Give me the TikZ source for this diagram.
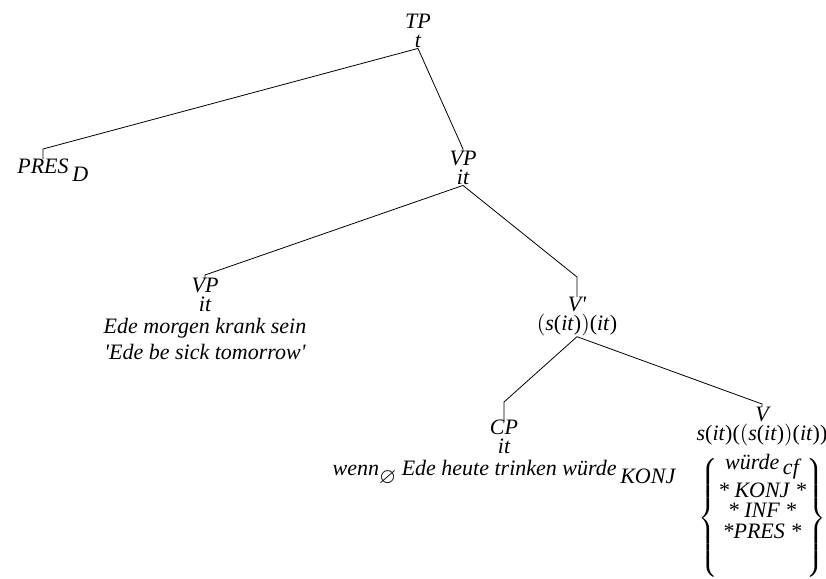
\documentclass[tikz,border=0pt]{standalone}
\usepackage{amssymb}
\usepackage{fontspec}
\setmainfont{Liberation Serif}
\usetikzlibrary{calc}

% lowered index, as the tree program sets it
\newcommand{\lowidx}[2][-0.7ex]{\,\raisebox{#1}{#2}}
\newcommand{\po}{\textup{(}}
\newcommand{\pc}{\textup{)}}
\newcommand{\bpo}{$\bigl($}
\newcommand{\bpc}{$\bigr)$}

\tikzset{
  lab/.style={anchor=north,inner sep=0pt,align=center,
    font=\fontsize{11}{9.5}\selectfont\itshape},
}

\begin{document}
\begin{tikzpicture}[x=0.5pt,y=-0.5pt]
\useasboundingbox (0,0) rectangle (826,579);

\node[lab] (tp) at (418,14) {TP\\t};
\node[lab] (pres) at (43,159) {PRES\rlap{\lowidx{D}}};
\node[lab] (vp) at (463,151) {VP\\it};
\node[lab] (vpl) at (205,278) {VP\\it\\[1.5pt]Ede morgen krank sein\\[2pt]\textquotesingle Ede be sick tomorrow\textquotesingle};
\node[lab] (vbar) at (577,297) {V\textquotesingle\\\bpo s\po it\pc\bpc\po it\pc};
\node[lab] (cp) at (504,420) {CP\\it\\[1.5pt]wenn\raisebox{-0.7ex}{$\varnothing$} Ede heute trinken würde\lowidx{KONJ}};
\node[lab] (v) at (762,407) {V\\s\po it\pc\po\bpo s\po it\pc\bpc\po it\pc\pc\\[3pt]
  $\left\{\renewcommand{\arraystretch}{1.0}\begin{array}{@{}c@{}}
  \mbox{\itshape würde\lowidx[-0.45ex]{cf}}\\[4pt]
  \mbox{\itshape * KONJ *}\\
  \mbox{\itshape * INF *}\\
  \mbox{\itshape *PRES *}\\
  \mbox{}\\
  \mbox{}
  \end{array}\right\}$};

\draw (tp.south) -- ($(pres.north)+(0,-10)$) -- (pres.north);
\draw (tp.south) -- ($(vp.north)+(0,-2)$) -- (vp.north);
\draw (vp.south) -- ($(vpl.north)+(0,-3)$) -- (vpl.north);
\draw (vp.south) -- ($(vbar.north)+(0,-20)$) -- (vbar.north);
\draw (vbar.south) -- ($(cp.north)+(0,-18)$) -- (cp.north);
\draw (vbar.south) -- ($(v.north)+(0,-3)$) -- (v.north);

\end{tikzpicture}
\end{document}
